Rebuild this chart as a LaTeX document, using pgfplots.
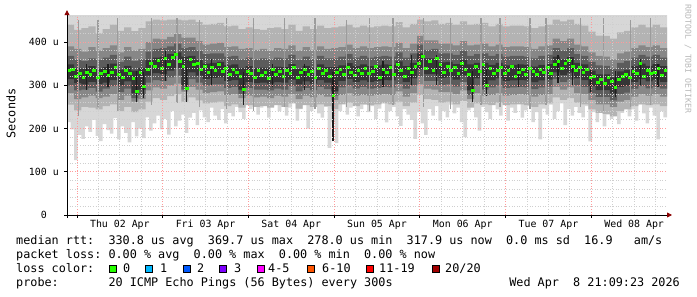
\documentclass[border=0pt]{standalone}
\usepackage{pgfplots}
\pgfplotsset{compat=1.18}
\usepackage{pgfplotstable}
\usepgfplotslibrary{fillbetween}
\usetikzlibrary{arrows.meta}
\usepackage{fontspec}
\setmainfont{DejaVu Sans Mono}
\setmonofont{DejaVu Sans Mono}
\definecolor{bA}{HTML}{D7D7D7}
\definecolor{bB}{HTML}{B3B3B3}
\definecolor{bC}{HTML}{878787}
\definecolor{bD}{HTML}{5C5C5C}
\definecolor{bE}{HTML}{353535}
\definecolor{sdark}{HTML}{1E1E1E}
\definecolor{smid}{HTML}{9C9C9C}
\definecolor{medgreen}{HTML}{26FF00}
\definecolor{gridred}{HTML}{FF9A9A}
\definecolor{gridgray}{HTML}{CFCFCF}
\definecolor{arrowred}{HTML}{8B0000}
\definecolor{wmgray}{HTML}{B8B8B8}
\definecolor{lc1}{HTML}{00B8FF}
\definecolor{lc2}{HTML}{0059FF}
\definecolor{lc3}{HTML}{7E00FF}
\definecolor{lc4}{HTML}{FF00FF}
\definecolor{lc5}{HTML}{FF5500}
\definecolor{lc6}{HTML}{FF0000}
\definecolor{lc7}{HTML}{A10000}
\newcommand{\legfont}{\fontsize{11.8}{14}\selectfont}

\pgfplotstableread{
x l1 m
0 215 335
1 198 338
2 127 322
3 185 328
4 176 318
5 205 331
6 192 325
7 220 336
8 183 320
9 171 329
10 210 333
11 196 324
12 188 330
13 224 341
14 175 326
15 205 319
16 190 335
17 168 328
18 215 316
19 182 286
20 200 330
21 178 297
22 226 338
23 195 352
24 212 345
25 230 358
26 198 340
27 222 362
28 186 350
29 240 366
30 205 372
31 218 355
32 232 344
33 190 293
34 225 360
35 236 348
36 208 352
37 242 338
38 226 345
39 215 330
40 248 342
41 230 336
42 220 348
43 245 332
44 212 340
45 236 325
46 228 337
47 250 331
48 238 322
49 222 291
50 255 333
51 245 327
52 260 318
53 232 336
54 248 324
55 258 330
56 225 317
57 250 338
58 262 326
59 240 332
60 255 321
61 230 335
62 248 328
63 262 342
64 218 318
65 245 330
66 258 337
67 200 325
68 240 333
69 252 319
70 235 340
71 225 328
72 250 335
73 155 322
74 215 278
75 166 330
76 240 338
77 258 326
78 232 343
79 248 331
80 262 324
81 228 336
82 245 329
83 255 340
84 238 327
85 252 333
86 222 345
87 246 320
88 260 338
89 214 330
90 240 342
91 250 325
92 228 348
93 206 334
94 245 322
95 232 339
96 220 331
97 176 345
98 238 352
99 212 368
100 185 340
101 245 357
102 230 335
103 252 362
104 218 348
105 240 330
106 226 344
107 255 336
108 235 341
109 248 329
110 215 352
111 180 338
112 242 325
113 255 288
114 226 345
115 195 332
116 250 350
117 238 300
118 222 339
119 258 327
120 244 335
121 230 342
122 256 328
123 218 336
124 248 344
125 236 322
126 260 331
127 225 338
128 242 326
129 252 340
130 215 333
131 238 325
132 175 337
133 246 330
134 232 343
135 255 328
136 222 348
137 240 356
138 258 340
139 208 352
140 245 358
141 230 345
142 250 336
143 236 341
144 226 330
145 252 338
146 170 318
147 238 322
148 215 308
149 245 315
150 205 305
151 232 318
152 222 310
153 248 296
154 210 314
155 236 322
156 252 325
157 228 318
158 244 333
159 218 328
160 256 351
161 235 322
162 212 336
163 248 327
164 230 331
165 175 340
166 240 324
167 226 335
168 226 335
}\Ta

\pgfplotstableread{
x h1 l2 h2 l3 h3 l4 h4 l5 h5
0 462 255 440 282 390 300 368 314 348
2 462 242 428 268 384 288 360 305 340
4 462 250 432 272 378 290 356 302 338
6 462 248 436 276 388 294 362 308 344
8 462 244 420 270 380 285 358 303 338
10 462 252 430 274 386 292 364 306 342
12 462 256 440 280 392 298 370 312 350
14 462 240 426 266 376 284 354 300 336
16 462 250 434 276 388 292 366 309 345
18 462 238 425 262 380 270 356 282 334
20 462 244 432 268 384 278 360 290 340
22 462 262 448 288 400 306 378 322 358
24 462 270 452 295 408 312 384 328 364
26 462 266 450 292 406 310 386 326 366
28 462 275 452 300 412 318 390 334 372
30 462 280 452 304 418 322 396 340 376
32 462 262 450 285 410 290 386 300 366
34 462 272 452 296 410 314 388 330 368
36 462 265 446 290 402 306 380 322 358
38 462 258 440 282 394 300 372 315 350
40 462 260 442 284 396 302 374 317 352
42 462 262 444 286 398 302 374 318 354
44 462 252 436 278 388 294 366 310 346
46 462 256 438 280 390 296 368 312 348
48 462 248 430 270 384 280 360 290 340
50 462 254 434 276 386 294 364 308 344
52 462 250 430 272 382 290 360 305 340
54 462 252 428 274 384 290 362 306 341
56 462 248 432 270 380 288 360 304 340
58 462 254 434 276 386 292 364 307 343
60 462 250 430 274 384 290 362 306 342
62 462 258 440 280 392 298 370 313 349
64 462 246 426 268 380 286 358 302 338
66 462 254 436 276 388 294 366 309 345
68 462 250 430 272 382 289 360 304 340
70 462 256 438 278 390 296 368 312 348
72 462 252 432 274 384 291 362 306 342
74 462 245 434 266 386 276 362 286 342
76 462 256 436 278 388 295 366 310 346
78 462 260 440 282 394 300 372 315 351
80 462 252 434 276 386 293 364 308 344
82 462 256 438 278 390 296 368 311 348
84 462 254 434 276 386 292 364 308 344
86 462 256 436 278 388 294 366 310 346
88 462 258 438 280 390 296 368 312 348
90 462 256 436 278 388 295 366 311 347
92 462 262 446 286 398 303 376 319 355
94 462 252 434 274 386 292 364 308 344
96 462 260 442 282 396 300 374 316 352
98 462 278 452 302 414 320 394 337 374
100 462 268 448 292 404 310 382 326 362
102 462 266 450 290 404 310 384 326 362
104 462 260 442 284 396 301 374 317 353
106 462 262 444 284 396 302 374 318 354
108 462 256 440 280 392 297 370 313 349
110 462 264 448 288 402 307 380 323 359
112 462 248 440 268 392 278 368 288 348
114 462 258 442 282 394 300 372 316 352
116 462 256 444 276 396 290 374 300 352
118 462 254 436 278 390 295 368 311 347
120 462 260 442 282 394 300 372 316 352
122 462 254 436 276 388 294 366 310 346
124 462 256 438 278 390 295 368 311 347
126 462 256 438 280 390 296 368 312 348
128 462 254 436 278 388 295 366 311 347
130 462 250 432 274 384 291 362 307 343
132 462 256 436 278 390 295 368 311 347
134 462 258 440 280 392 297 370 313 349
136 462 272 452 296 408 314 386 330 366
138 462 266 448 290 402 308 380 324 360
140 462 270 452 295 408 313 386 329 365
142 462 260 442 282 394 300 372 316 352
144 462 256 438 280 390 296 368 312 348
146 462 244 424 266 376 282 354 298 334
148 462 236 415 256 368 273 346 289 325
150 462 234 414 256 366 273 345 289 325
152 462 228 408 250 360 265 338 281 318
154 462 240 422 262 374 280 352 296 332
156 462 244 426 266 378 283 356 299 335
158 462 252 434 274 386 292 364 308 344
160 462 256 440 280 392 298 370 314 350
162 462 254 434 276 388 293 366 309 345
164 462 256 440 280 392 297 370 313 349
166 462 252 434 274 386 292 364 308 344
168 462 252 434 274 386 292 364 308 344
}\Tb

% dark streaks: x, low end, length
\pgfplotstableread{
x lo len
5.5 290 60
11.5 295 55
19.5 262 70
21.5 270 60
27.5 310 70
33.5 262 80
40.5 300 60
49.5 255 75
57.5 295 55
66.5 290 60
74.5 170 160
88.5 295 60
96.5 300 70
103.5 300 70
113.5 262 70
117.5 275 60
126.5 295 55
137.5 305 65
141.5 300 60
146.5 285 50
153.5 272 60
160.5 300 60
165.5 295 55
}\Sd

% mid grey streaks: x, low end, length
\pgfplotstableread{
x lo len
3.3 230 220
8.7 250 200
14.2 240 215
23.6 255 200
30.8 260 195
37.1 250 200
44.6 245 210
52.3 240 215
60.9 250 205
69.4 245 210
78.2 250 200
84.7 240 215
91.3 255 200
99.8 250 205
107.4 245 210
115.9 255 200
121.2 250 205
129.6 245 210
134.1 255 200
143.8 250 205
150.2 240 215
157.7 250 200
163.4 255 200
}\Sm

\begin{document}
\begin{tikzpicture}
\begin{axis}[
  at={(67pt,82pt)}, anchor=south west,
  scale only axis, width=600pt, height=199.8pt,
  xmin=0, xmax=168, ymin=0, ymax=462,
  axis lines=left,
  axis on top,
  axis line style={line width=0.8pt, black, shorten <=-3pt, shorten >=-5pt,
     -{Triangle[length=5pt,width=5pt,color=arrowred,fill=arrowred]}},
  font=\fontsize{9.9}{11}\selectfont,
  xtick={2.8,26.8,50.8,74.8,98.8,122.8,146.8},
  xticklabels={},
  minor xtick={8.8,14.8,20.8,32.8,38.8,44.8,56.8,62.8,68.8,80.8,86.8,92.8,104.8,110.8,116.8,128.8,134.8,140.8,152.8,158.8,164.8},
  extra x ticks={14.8,38.8,62.8,86.8,110.8,134.8,158.8},
  extra x tick labels={Thu 02 Apr,Fri 03 Apr,Sat 04 Apr,Sun 05 Apr,Mon 06 Apr,Tue 07 Apr,Wed 08 Apr},
  extra x tick style={grid=none, major tick length=0pt,
     xticklabel style={anchor=base, yshift=-13pt, inner sep=0pt}},
  ytick={0,100,200,300,400},
  yticklabels={0\phantom{00},100 u,200 u,300 u,400 u},
  minor ytick={20,40,60,80,120,140,160,180,220,240,260,280,320,340,360,380,420,440,460},
  yticklabel style={anchor=east, inner sep=0pt, xshift=-5pt},
  grid=both,
  major grid style={draw=gridred, line width=0.8pt, dash pattern=on 0.8pt off 1.8pt},
  minor grid style={draw=gridgray, line width=0.8pt, dash pattern=on 0.8pt off 1.8pt},
  tick align=outside,
  major tick length=3pt, minor tick length=0pt,
  tick style={black, line width=0.8pt},
]
\addplot[draw=none, const plot, name path=H1] table[x=x,y=h1]{\Tb};
\addplot[draw=none, const plot, name path=L1] table[x=x,y=l1]{\Ta};
\addplot[fill=bA, draw=none] fill between[of=H1 and L1];
\addplot[draw=none, mark=none, forget plot,
   error bars/.cd, y dir=plus, y explicit, error mark=none,
   error bar style={draw=smid, line width=1.3pt}]
   table[x=x, y=lo, y error plus=len]{\Sm};
\addplot[draw=none, const plot, name path=H2] table[x=x,y=h2]{\Tb};
\addplot[draw=none, const plot, name path=L2] table[x=x,y=l2]{\Tb};
\addplot[fill=bB, draw=none] fill between[of=H2 and L2];
\addplot[draw=none, const plot, name path=H3] table[x=x,y=h3]{\Tb};
\addplot[draw=none, const plot, name path=L3] table[x=x,y=l3]{\Tb};
\addplot[fill=bC, draw=none] fill between[of=H3 and L3];
\addplot[draw=none, const plot, name path=H4] table[x=x,y=h4]{\Tb};
\addplot[draw=none, const plot, name path=L4] table[x=x,y=l4]{\Tb};
\addplot[fill=bD, draw=none] fill between[of=H4 and L4];
\addplot[draw=none, const plot, name path=H5] table[x=x,y=h5]{\Tb};
\addplot[draw=none, const plot, name path=L5] table[x=x,y=l5]{\Tb};
\addplot[fill=bE, draw=none] fill between[of=H5 and L5];
\addplot[draw=none, mark=none, forget plot,
   error bars/.cd, y dir=plus, y explicit, error mark=none,
   error bar style={draw=sdark, line width=1.3pt}]
   table[x=x, y=lo, y error plus=len]{\Sd};
\addplot[only marks, color=medgreen, mark=square*, mark size=1.0pt,
   mark options={fill=medgreen, draw=medgreen, line width=0.2pt, xscale=1.35},
   skip coords between index={168}{169}]
   table[x expr=\thisrow{x}+0.5, y=m]{\Ta};
\end{axis}

\begin{scope}[x=1pt,y=1pt]
\node[rotate=90, font=\legfont, inner sep=0pt] at (11,183.5) {Seconds};
\node[rotate=-90, font=\fontsize{8.2}{9}\selectfont, text=wmgray, inner sep=0pt] at (688,238) {RRDTOOL / TOBI OETIKER};
\begin{scope}[every node/.style={font=\legfont, inner sep=0pt, anchor=base west}]
\node at (16,52) {median rtt:};
\node at (108.3,52) {330.8 us avg};
\node at (207.7,52) {369.7 us max};
\node at (307.1,52) {278.0 us min};
\node at (406.5,52) {317.9 us now};
\node at (505.9,52) {0.0 ms sd};
\node at (584,52) {16.9};
\node at (633.7,52) {am/s};
\node at (16,38) {packet loss:};
\node at (108.3,38) {0.00 \% avg};
\node at (193.5,38) {0.00 \% max};
\node at (278.7,38) {0.00 \% min};
\node at (363.9,38) {0.00 \% now};
\node at (16,24) {loss color:};
\node at (123,24) {0};
\node at (160,24) {1};
\node at (197,24) {2};
\node at (234,24) {3};
\node at (268,24) {4-5};
\node at (322,24) {6-10};
\node at (379,24) {11-19};
\node at (445,24) {20/20};
\node at (16,10) {probe:};
\node at (108.3,10) {20 ICMP Echo Pings (56 Bytes) every 300s};
\node[anchor=base east] at (680,10) {Wed Apr\ \ 8 21:09:23 2026};
\end{scope}
\begin{scope}[line width=0.8pt]
\filldraw[fill=medgreen] (109,24.5) rectangle ++(7,7);
\filldraw[fill=lc1] (145,24.5) rectangle ++(7,7);
\filldraw[fill=lc2] (183,24.5) rectangle ++(7,7);
\filldraw[fill=lc3] (219,24.5) rectangle ++(7,7);
\filldraw[fill=lc4] (257,24.5) rectangle ++(7,7);
\filldraw[fill=lc5] (307,24.5) rectangle ++(7,7);
\filldraw[fill=lc6] (366,24.5) rectangle ++(7,7);
\filldraw[fill=lc7] (432,24.5) rectangle ++(7,7);
\end{scope}
\pgfresetboundingbox
\path (0,0) rectangle (697,297);
\end{scope}
\end{tikzpicture}
\end{document}
